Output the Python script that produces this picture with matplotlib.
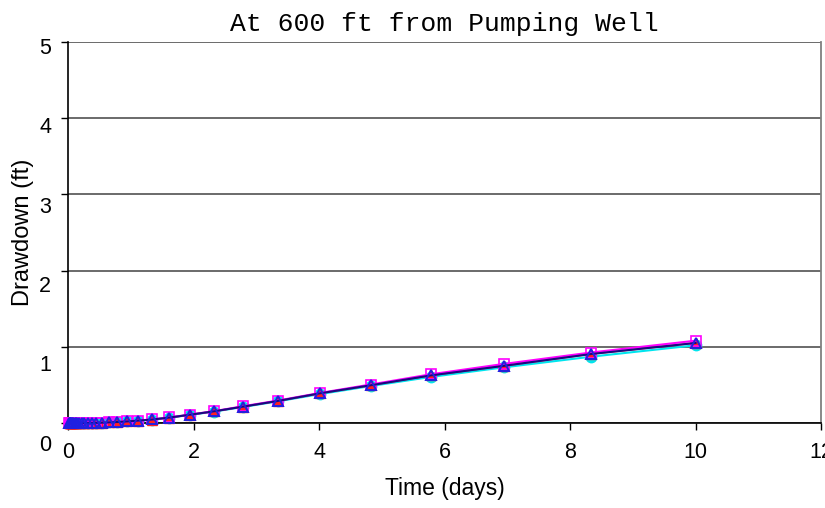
import numpy as np
import matplotlib
matplotlib.use('agg')
import matplotlib.pyplot as plt
from matplotlib.transforms import ScaledTranslation

# time steps (days)
time_days = [0.020, 0.024, 0.029, 0.035, 0.042, 0.050, 0.061, 0.073, 0.087, 0.105,
             0.126, 0.151, 0.181, 0.217, 0.261, 0.313, 0.376, 0.451, 0.541, 0.649,
             0.779, 0.935, 1.122, 1.346, 1.615, 1.938, 2.326, 2.791, 3.349, 4.019,
             4.823, 5.787, 6.944, 8.333, 10.0]

# drawdown (ft) from the different solutions
dd_cyan = [0.0, 0.0, 0.0, 0.0, 0.0, 0.0, 0.0, 0.0, 0.0, 0.0,
           0.0, 0.0, 0.0, 0.0, 0.0, 0.0, 0.0, 0.002, 0.004, 0.008,
           0.013, 0.02, 0.03, 0.045, 0.07, 0.105, 0.15, 0.21, 0.285, 0.38,
           0.485, 0.605, 0.73, 0.87, 1.02]
dd_red = [0.0, 0.0, 0.0, 0.0, 0.0, 0.0, 0.0, 0.0, 0.0, 0.0,
          0.0, 0.0, 0.0, 0.0, 0.0, 0.0, 0.0, 0.002, 0.004, 0.008,
          0.013, 0.02, 0.03, 0.045, 0.07, 0.108, 0.152, 0.215, 0.29, 0.39,
          0.495, 0.625, 0.75, 0.905, 1.05]
dd_magenta = [0.0, 0.0, 0.0, 0.0, 0.0, 0.0, 0.0, 0.0, 0.0, 0.0,
              0.0, 0.0, 0.0, 0.0, 0.0, 0.0, 0.0, 0.002, 0.004, 0.008,
              0.013, 0.021, 0.032, 0.048, 0.073, 0.11, 0.155, 0.22, 0.295, 0.395,
              0.505, 0.64, 0.775, 0.925, 1.08]
dd_blue = [0.0, 0.0, 0.0, 0.0, 0.0, 0.0, 0.0, 0.0, 0.0, 0.0,
           0.0, 0.0, 0.0, 0.0, 0.0, 0.0, 0.0, 0.002, 0.004, 0.008,
           0.013, 0.02, 0.031, 0.046, 0.071, 0.108, 0.153, 0.215, 0.29, 0.39,
           0.495, 0.625, 0.75, 0.905, 1.05]

x_ticks = [0, 2, 4, 6, 8, 10, 12]
y_ticks = [0, 1, 2, 3, 4, 5]
y_label_drop = [20, 16, 13, 11, 7, 4]  # excel style label offsets, px

plt.rcParams['font.family'] = ['Liberation Sans', 'DejaVu Sans']

fig = plt.figure(figsize=(8.25, 5.08), dpi=100)
ax = fig.add_axes([68/825, 1-423/508, (821-68)/825, (423-42)/508])

ax.plot(time_days, dd_cyan, color='#00e5ee', lw=1.5, marker='o', ms=7.5,
        mfc='#00e5ee', mec='#00e5ee', zorder=3, clip_on=False)
ax.plot(time_days, dd_red, color='#ff2020', lw=1.2, marker='^', ms=7.5,
        mfc='#ff2020', mec='#ff2020', zorder=4, clip_on=False)
ax.plot(time_days, dd_magenta, color='#ff00ff', lw=1.5, marker='s', ms=6.5,
        mfc='none', mec='#ff00ff', mew=1.2, zorder=5, clip_on=False)
ax.plot(time_days, dd_blue, color='#1a0a80', lw=1.5, marker='^', ms=6.5,
        mfc='none', mec='#2020e0', mew=1.4, zorder=6, clip_on=False)

ax.set_xlim(0, 12)
ax.set_ylim(0, 5)
ax.set_xticks(x_ticks)
ax.set_yticks(y_ticks)
ax.yaxis.grid(True, color='#6a6a6a', lw=1.4)
ax.set_axisbelow(True)

for s in ['top', 'right']:
    ax.spines[s].set_color('#808080')
    ax.spines[s].set_linewidth(1.3)
ax.spines['top'].set_visible(False)
ax.spines['left'].set_linewidth(1.2)
ax.spines['bottom'].set_linewidth(1.2)

ax.tick_params(axis='both', direction='out', length=5, width=1, labelsize=15.5)
ax.tick_params(axis='x', pad=9)
ax.tick_params(axis='y', pad=7)

for lab, d in zip(ax.get_yticklabels(), y_label_drop):
    lab.set_transform(lab.get_transform() + ScaledTranslation(0, -d/100, fig.dpi_scale_trans))

ax.set_xlabel('Time (days)', fontsize=16.5, labelpad=10)
ax.set_ylabel('Drawdown (ft)', fontsize=17, labelpad=4)
ax.set_title('At 600 ft from Pumping Well', fontsize=19,
             family=['Liberation Mono'], pad=8)

fig.savefig('out.png', dpi=100)
